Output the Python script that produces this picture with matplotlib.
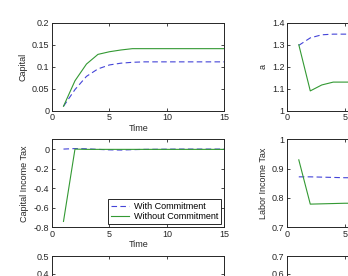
import matplotlib
matplotlib.use('Agg')
import matplotlib.pyplot as plt
from matplotlib.ticker import FormatStrFormatter

# Time axis
time = list(range(1, 16))

# Capital
capital_with = [0.01, 0.048, 0.078, 0.095, 0.104, 0.108, 0.110, 0.111, 0.111,
                0.111, 0.111, 0.111, 0.111, 0.111, 0.111]
capital_without = [0.01, 0.068, 0.106, 0.128, 0.134, 0.138, 0.141, 0.141, 0.141,
                   0.141, 0.141, 0.141, 0.141, 0.141, 0.141]

# a
a_with = [1.297, 1.331, 1.345, 1.348, 1.348, 1.348, 1.348, 1.348, 1.348,
          1.348, 1.348, 1.348, 1.348, 1.348, 1.348]
a_without = [1.300, 1.090, 1.117, 1.130, 1.130, 1.130, 1.130, 1.130, 1.130,
             1.130, 1.130, 1.130, 1.130, 1.130, 1.130]

# Capital income tax
ktax_with = [0.0, 0.005, 0.003, -0.003, -0.008, -0.01, -0.006, -0.003, -0.002,
             -0.001, 0.0, 0.0, 0.0, 0.0, 0.0]
ktax_without = [-0.74, 0.0, -0.003, -0.003, -0.003, -0.003, -0.003, -0.003,
                -0.003, -0.003, -0.003, -0.003, -0.003, -0.003, -0.003]

# Labor income tax
ltax_with = [0.872, 0.872, 0.871, 0.870, 0.869, 0.869, 0.868, 0.868, 0.868,
             0.868, 0.868, 0.868, 0.868, 0.868, 0.868]
ltax_without = [0.930, 0.779, 0.780, 0.781, 0.782, 0.782, 0.782, 0.782, 0.782,
                0.782, 0.782, 0.782, 0.782, 0.782, 0.782]

BLUE = '#4444d8'
GREEN = '#339933'

plt.rcParams['font.family'] = ['Liberation Sans', 'DejaVu Sans']
plt.rcParams['font.size'] = 6.5

fig = plt.figure(figsize=(3.48, 2.76), dpi=100)

W, H = 348.0, 276.0
aw, ah = 172.3 / W, 88.0 / H
lefts = [52 / W, 287.3 / W]
bottoms = [1 - 110.7 / H, 1 - 227.3 / H, 1 - 344.0 / H]


def style(ax, ylim, yticks, ylabel=None, xlabel='Time'):
    ax.set_xlim(0, 15)
    ax.set_xticks([0, 5, 10, 15])
    ax.set_ylim(*ylim)
    ax.set_yticks(yticks)
    ax.yaxis.set_major_formatter(FormatStrFormatter('%g'))
    ax.tick_params(direction='in', length=2.5, width=0.6, top=True, right=True,
                   colors='#262626', labelsize=6.5, pad=2)
    for s in ax.spines.values():
        s.set_linewidth(0.7)
        s.set_color('#262626')
    if ylabel:
        ax.set_ylabel(ylabel, labelpad=3, color='#262626')
    if xlabel:
        ax.set_xlabel(xlabel, labelpad=1, color='#262626')


ax = fig.add_axes([lefts[0], bottoms[0], aw, ah])
ax.plot(time, capital_with, '--', color=BLUE, lw=0.8, dashes=(5, 3))
ax.plot(time, capital_without, '-', color=GREEN, lw=0.8)
style(ax, (0, 0.2), [0, 0.05, 0.1, 0.15, 0.2], 'Capital')

ax = fig.add_axes([lefts[1], bottoms[0], aw, ah])
ax.plot(time, a_with, '--', color=BLUE, lw=0.8, dashes=(5, 3))
ax.plot(time, a_without, '-', color=GREEN, lw=0.8)
style(ax, (1, 1.4), [1, 1.1, 1.2, 1.3, 1.4], 'a')

ax = fig.add_axes([lefts[0], bottoms[1], aw, ah])
ax.plot(time, ktax_with, '--', color=BLUE, lw=0.8, dashes=(5, 3),
        label='With Commitment')
ax.plot(time, ktax_without, '-', color=GREEN, lw=0.8,
        label='Without Commitment')
style(ax, (-0.8, 0.1), [-0.8, -0.6, -0.4, -0.2, 0], 'Capital Income Tax')
leg = ax.legend(loc='lower right', fontsize=6.5, fancybox=False,
                edgecolor='#262626', framealpha=1, borderpad=0.3,
                handlelength=2.0, handletextpad=0.5, labelspacing=0.1,
                borderaxespad=0.4)
leg.get_frame().set_linewidth(0.7)

ax = fig.add_axes([lefts[1], bottoms[1], aw, ah])
ax.plot(time, ltax_with, '--', color=BLUE, lw=0.8, dashes=(5, 3))
ax.plot(time, ltax_without, '-', color=GREEN, lw=0.8)
style(ax, (0.7, 1.0), [0.7, 0.8, 0.9, 1.0], 'Labor Income Tax')

ax = fig.add_axes([lefts[0], bottoms[2], aw, ah])
style(ax, (0, 0.5), [0, 0.1, 0.2, 0.3, 0.4, 0.5])

ax = fig.add_axes([lefts[1], bottoms[2], aw, ah])
style(ax, (0.2, 0.7), [0.2, 0.3, 0.4, 0.5, 0.6, 0.7])

fig.savefig('out.png', dpi=100)
